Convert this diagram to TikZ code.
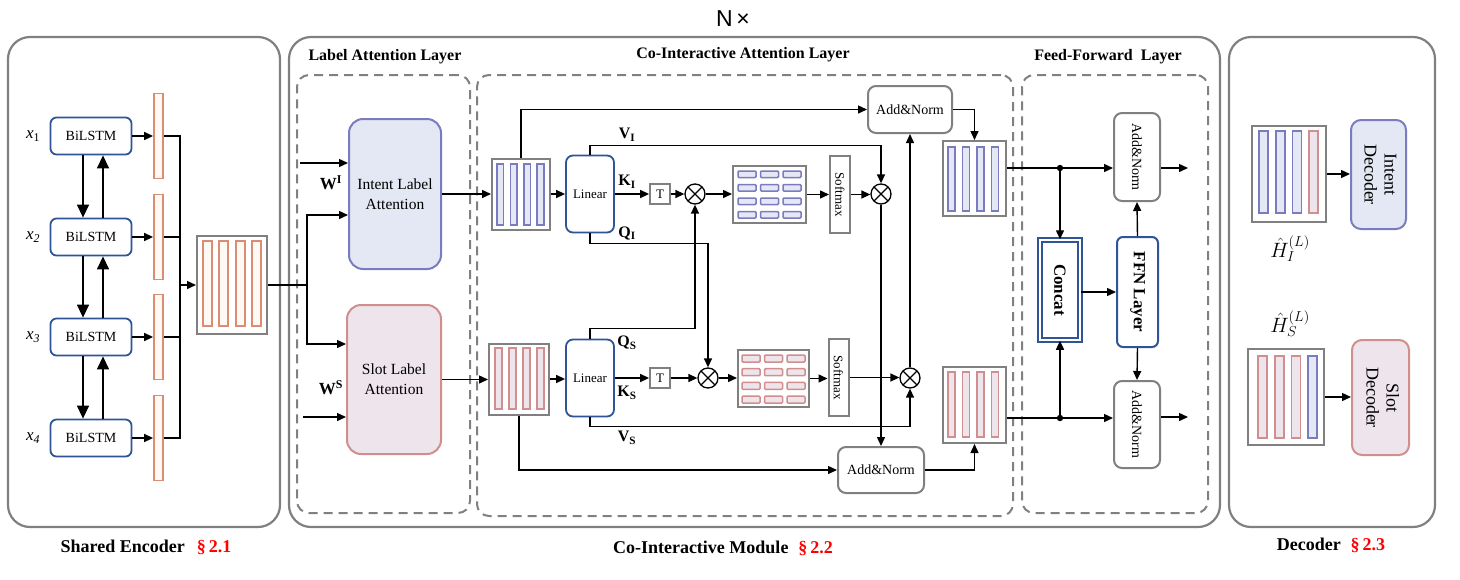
\documentclass[tikz,border=0pt]{standalone}
\usepackage{fontspec}
\usepackage{graphicx}
\setmainfont{Liberation Serif}
\newfontfamily\sansf{Liberation Sans}
\usetikzlibrary{arrows.meta,calc}
\definecolor{gline}{HTML}{808080}
\definecolor{bline}{HTML}{2F5597}
\definecolor{pline}{HTML}{7B7BC0}
\definecolor{pfill}{HTML}{E4E8F4}
\definecolor{rline}{HTML}{D08E8E}
\definecolor{rfill}{HTML}{EDE4EC}
\definecolor{oline}{HTML}{DA8C74}
\definecolor{ofill}{HTML}{FFF9F4}
\definecolor{secred}{HTML}{FF0000}
\newcommand\myfs[1]{\fontsize{#1}{#1}\selectfont}
\begin{document}
\begin{tikzpicture}[x=1pt,y=-1pt,
  outerbox/.style={draw=gline,line width=2.2pt,rounded corners=22pt,inner sep=0pt},
  dashbox/.style={draw=gline,line width=2pt,dash pattern=on 9pt off 6pt,rounded corners=12pt,inner sep=0pt},
  lstm/.style={draw=bline,line width=1.8pt,rounded corners=6pt,minimum width=81pt,minimum height=37pt,inner sep=0pt,font=\myfs{14}},
  obar/.style={draw=oline,line width=1.8pt,fill=ofill,minimum width=9pt,minimum height=85pt,inner sep=0pt},
  obarl/.style={draw=oline,line width=1.8pt,fill=ofill},
  pbarl/.style={draw=pline,line width=1.6pt,fill=pfill},
  rbarl/.style={draw=rline,line width=1.6pt,fill=rfill},
  pcell/.style={draw=pline,line width=1.5pt,fill=pfill,rounded corners=1pt},
  rcell/.style={draw=rline,line width=1.5pt,fill=rfill,rounded corners=1pt},
  mat/.style={draw=gline,line width=2pt,fill=white,inner sep=0pt},
  lin/.style={draw=bline,line width=1.8pt,rounded corners=7pt,minimum width=48pt,minimum height=77pt,inner sep=0pt,font=\myfs{13}},
  tbox/.style={draw=gline,line width=1.8pt,minimum size=20pt,inner sep=0pt,font=\myfs{13}},
  otim/.style={circle,draw=black,line width=1.3pt,minimum size=20pt,inner sep=0pt,
    path picture={\draw[line width=1.2pt] (path picture bounding box.north west) -- (path picture bounding box.south east)
      (path picture bounding box.north east) -- (path picture bounding box.south west);}},
  sfbox/.style={draw=gline,line width=2pt,minimum width=20pt,minimum height=77pt,inner sep=0pt,font=\myfs{13}},
  addn/.style={draw=gline,line width=2pt,rounded corners=8pt,inner sep=0pt,font=\myfs{14}},
  conn/.style={line width=1.4pt},
  arr/.style={line width=1.4pt,-{Triangle[length=9pt,width=8pt]}},
  bigarr/.style={line width=1.4pt,-{Triangle[length=13pt,width=12pt]}},
  lab/.style={font=\myfs{16}\bfseries},
  ttl/.style={font=\myfs{16}\bfseries},
  captext/.style={font=\myfs{18}\bfseries},
  xlab/.style={font=\myfs{17}\itshape}]
\useasboundingbox (0,0) rectangle (1460,579);
\fill[white] (0,0) rectangle (1460,579);

% ---------- containers ----------
\node[outerbox,minimum width=272pt,minimum height=490pt] (encbox) at (144,282) {};
\node[outerbox,minimum width=931pt,minimum height=490pt] (cobox) at (754.5,282) {};
\node[outerbox,minimum width=206pt,minimum height=490pt] (decbox) at (1332,282) {};
\node[dashbox,minimum width=173pt,minimum height=438pt] (labbox) at (383.5,294) {};
\node[dashbox,minimum width=536pt,minimum height=441pt] (cabox) at (745,295.5) {};
\node[dashbox,minimum width=186pt,minimum height=438pt] (ffbox) at (1115,294) {};

% ---------- titles ----------
\node[font=\sansf\myfs{23}] (nx) at (733,19) {N\,×};
\node[ttl] (t1) at (385,57) {Label Attention Layer};
\node[ttl] (t2) at (743,55) {Co-Interactive Attention Layer};
\node[ttl] (t3) at (1108,57) {Feed-Forward\ \ Layer};
\node[captext] (c1) at (146,547) {Shared Encoder\hspace{12pt}\textcolor{secred}{§\,2.1}};
\node[captext] (c2) at (723,548) {Co-Interactive Module\hspace{10pt}\textcolor{secred}{§\,2.2}};
\node[captext] (c3) at (1331,545) {Decoder\hspace{10pt}\textcolor{secred}{§\,2.3}};

% ---------- shared encoder ----------
\foreach \i/\y/\sub in {1/136/{\upshape 1},2/237/2,3/337/3,4/438/4}{
  \node[lstm] (l\i) at (91,\y) {BiLSTM};
  \node[obar] (b\i) at (158.5,\y) {};
  \node[xlab] (x\i) at (33,\y) {x\textsubscript{\sub}};
  \draw[arr] (l\i.east) -- (b\i.west);
}
\foreach \a/\b in {l1/l2,l2/l3,l3/l4}{
  \draw[bigarr] ([xshift=-8pt]\a.south) -- ([xshift=-8pt]\b.north);
  \draw[bigarr] ([xshift=12pt]\b.north) -- ([xshift=12pt]\a.south);
}
\node[mat,minimum width=70pt,minimum height=98pt] (enc) at (232,285) {};
\foreach \i in {0,...,3} \draw[obarl] ({203+16.3*\i},241) rectangle ++(9,85);
\coordinate (col) at (180,285);
\draw[conn] (b1.east) -| (col);
\draw[conn] (b4.east) -| (col);
\draw[conn] (b2.east) -- (b2.east -| col);
\draw[conn] (b3.east) -- (b3.east -| col);
\draw[arr] (col) -- (enc.west);

% ---------- label attention ----------
\node[draw=pline,fill=pfill,line width=2pt,rounded corners=14pt,minimum width=92pt,minimum height=150pt,
  inner sep=0pt,align=center,font=\fontsize{15.5}{20}\selectfont] (ila) at (395,194) {Intent Label\\Attention};
\node[draw=rline,fill=rfill,line width=2pt,rounded corners=14pt,minimum width=94pt,minimum height=149pt,
  inner sep=0pt,align=center,font=\fontsize{15.5}{20}\selectfont] (sla) at (394,379.5) {Slot Label\\Attention};
\coordinate (sp) at (307,285);
\draw[conn] (enc.east) -- (sp);
\draw[arr] (sp) |- ([yshift=-21pt]ila.west);
\draw[arr] (sp) |- ([yshift=35.5pt]sla.west);
\coordinate (wi) at (300,163);
\coordinate (ws) at (303,417);
\draw[arr] (wi) -- (wi -| ila.west);
\draw[arr] (ws) -- (ws -| sla.west);
\node[font=\myfs{17}\bfseries] (wil) at (331,183) {W\textsuperscript{I}};
\node[font=\myfs{17}\bfseries] (wsl) at (331,388) {W\textsuperscript{S}};

% ---------- co-interactive attention ----------
\node[mat,minimum width=58pt,minimum height=71pt] (im) at (521,194) {};
\foreach \i in {0,...,3} \draw[pbarl] ({497+13.4*\i},164) rectangle ++(6.5,61);
\node[mat,minimum width=60pt,minimum height=71pt] (sm) at (519,379) {};
\foreach \i in {0,...,3} \draw[rbarl] ({495+14*\i},348) rectangle ++(7,61);
\draw[arr] (ila.east) -- (ila.east -| im.west);
\draw[arr] (sla.east) -- (sla.east -| sm.west);

\node[lin] (lin1) at (590,194) {Linear};
\node[lin] (lin2) at (590,378) {Linear};
\draw[arr] (im.east) -- (im.east -| lin1.west);
\draw[arr] (sm.east) -- (sm.east -| lin2.west);

\node[tbox] (tt1) at (660,194) {T};
\node[tbox] (tt2) at (660,378) {T};
\node[otim] (o1) at (695,194) {};
\node[otim] (o2) at (881,194) {};
\node[otim] (o3) at (708,378) {};
\node[otim] (o4) at (910,378) {};
\node[mat,minimum width=73pt,minimum height=57pt] (am1) at (769.5,194.5) {};
\foreach \r in {0,...,3} \foreach \c in {0,...,2} \draw[pcell] ({738+22.5*\c},{171+13.5*\r}) rectangle ++(18,6.5);
\node[mat,minimum width=71pt,minimum height=57pt] (am2) at (773.5,378.5) {};
\foreach \r in {0,...,3} \foreach \c in {0,...,2} \draw[rcell] ({742+22.5*\c},{355+13.7*\r}) rectangle ++(18,7);
\node[sfbox] (sf1) at (840,194.5) {\rotatebox{-90}{Softmax}};
\node[sfbox] (sf2) at (838.5,377.5) {\rotatebox{-90}{Softmax}};

\draw[arr] (lin1.east) -- (tt1.west);
\draw[arr] (tt1.east) -- (o1.west);
\draw[arr] (o1.east) -- (o1.east -| am1.west);
\draw[arr] (am1.east) -- (am1.east -| sf1.west);
\draw[arr] (sf1.east) -- (sf1.east -| o2.west);
\draw[arr] (lin2.east) -- (tt2.west);
\draw[arr] (tt2.east) -- (o3.west);
\draw[arr] (o3.east) -- (o3.east -| am2.west);
\draw[arr] (am2.east) -- (am2.east -| sf2.west);
\draw[arr] (sf2.east) -- (sf2.east -| o4.west);

\draw[arr] (lin1.north) -- ++(0,-9) -| (o2.north);
\draw[arr] (lin1.south) -- ++(0,10) -| (o3.north);
\draw[arr] (lin2.north) -- ++(0,-10) -| (o1.south);
\draw[arr] (lin2.south) -- ++(0,9) -| (o4.south);
\node[lab] (vil) at (627,135) {V\textsubscript{I}};
\node[lab] (kil) at (627,182) {K\textsubscript{I}};
\node[lab] (qil) at (627,233) {Q\textsubscript{I}};
\node[lab] (qsl) at (627,343) {Q\textsubscript{S}};
\node[lab] (ksl) at (627,393) {K\textsubscript{S}};
\node[lab] (vsl) at (627,438) {V\textsubscript{S}};

\node[addn,minimum width=84pt,minimum height=47pt] (an1) at (910,109.5) {Add\&Norm};
\node[addn,minimum width=86pt,minimum height=46pt] (an2) at (881,470) {Add\&Norm};
\draw[arr] (im.north) |- (an1.west);
\draw[arr] (sm.south) |- (an2.west);
\draw[arr] (o4.north) -- (an1.south);
\draw[arr] (o2.south) -- (an2.north);

\node[mat,minimum width=63pt,minimum height=75pt] (io) at (974.5,178.5) {};
\foreach \i in {0,...,3} \draw[pbarl] ({948+14.5*\i},147) rectangle ++(7,64);
\node[mat,minimum width=63pt,minimum height=76pt] (so) at (974.5,405) {};
\foreach \i in {0,...,3} \draw[rbarl] ({948+14.5*\i},372) rectangle ++(7,65);
\draw[arr] (an1.east) -| (io.north);
\draw[arr] (an2.east) -| (so.south);

% ---------- feed-forward ----------
\node[addn,minimum width=46pt,minimum height=88pt] (an3) at (1137,157) {\rotatebox{-90}{Add\&Norm}};
\node[addn,minimum width=46pt,minimum height=87pt] (an4) at (1137,424.5) {\rotatebox{-90}{Add\&Norm}};
\node[draw=bline,line width=1.5pt,double=white,double distance=2.2pt,minimum width=40pt,minimum height=100pt,
  inner sep=0pt,font=\myfs{17}\bfseries] (cc) at (1060,290) {\rotatebox{-90}{Concat}};
\node[draw=bline,line width=2pt,rounded corners=6pt,minimum width=41pt,minimum height=110pt,
  inner sep=0pt,font=\myfs{17}\bfseries] (ffn) at (1137.5,292) {\rotatebox{-90}{FFN Layer}};
\coordinate (d1) at (1060,168);
\coordinate (d2) at (1060,418);
\coordinate (out1) at (1188,168);
\coordinate (out2) at (1188,417);
\draw[conn] (io.east |- d1) -- (d1);
\draw[conn] (so.east |- d2) -- (d2);
\draw[arr] (d1) -- (d1 -| an3.west);
\draw[arr] (d2) -- (d2 -| an4.west);
\draw[arr] (d1) -- (cc.north);
\draw[arr] (d2) -- (cc.south);
\fill (d1) circle (3.2pt);
\fill (d2) circle (3.2pt);
\draw[arr] (ffn.west -| cc.east) -- (ffn.west);
\draw[arr] (ffn.north) -- (an3.south);
\draw[arr] (ffn.south) -- (an4.north);
\draw[arr] (an3.east |- out1) -- (out1);
\draw[arr] (an4.east |- out2) -- (out2);

% ---------- decoder ----------
\node[mat,minimum width=74pt,minimum height=96pt] (him) at (1289,174) {};
\foreach \i/\s in {0/pbarl,1/pbarl,2/pbarl,3/rbarl} \draw[\s] ({1259+16.7*\i},131) rectangle ++(9,82);
\node[mat,minimum width=76pt,minimum height=96pt] (hsm) at (1286,397) {};
\foreach \i/\s in {0/rbarl,1/rbarl,2/rbarl,3/pbarl} \draw[\s] ({1258+16.7*\i},356) rectangle ++(9,82);
\node[draw=pline,fill=pfill,line width=2pt,rounded corners=10pt,minimum width=55pt,minimum height=109pt,
  inner sep=0pt,font=\fontsize{18}{20}\selectfont] (idec) at (1378.5,174.5)
  {\rotatebox{-90}{\begin{tabular}{@{}c@{}}Intent\\Decoder\end{tabular}}};
\node[draw=rline,fill=rfill,line width=2pt,rounded corners=10pt,minimum width=57pt,minimum height=115pt,
  inner sep=0pt,font=\fontsize{18}{20}\selectfont] (sdec) at (1380.5,397.5)
  {\rotatebox{-90}{\begin{tabular}{@{}c@{}}Slot\\Decoder\end{tabular}}};
\draw[arr] (him.east) -- (him.east -| idec.west);
\draw[arr] (hsm.east) -- (hsm.east -| sdec.west);
\node[font=\myfs{22}] (hil) at (1290,249) {$\hat{H}_I^{(L)}$};
\node[font=\myfs{22}] (hsl) at (1290,324) {$\hat{H}_S^{(L)}$};
\end{tikzpicture}
\end{document}
